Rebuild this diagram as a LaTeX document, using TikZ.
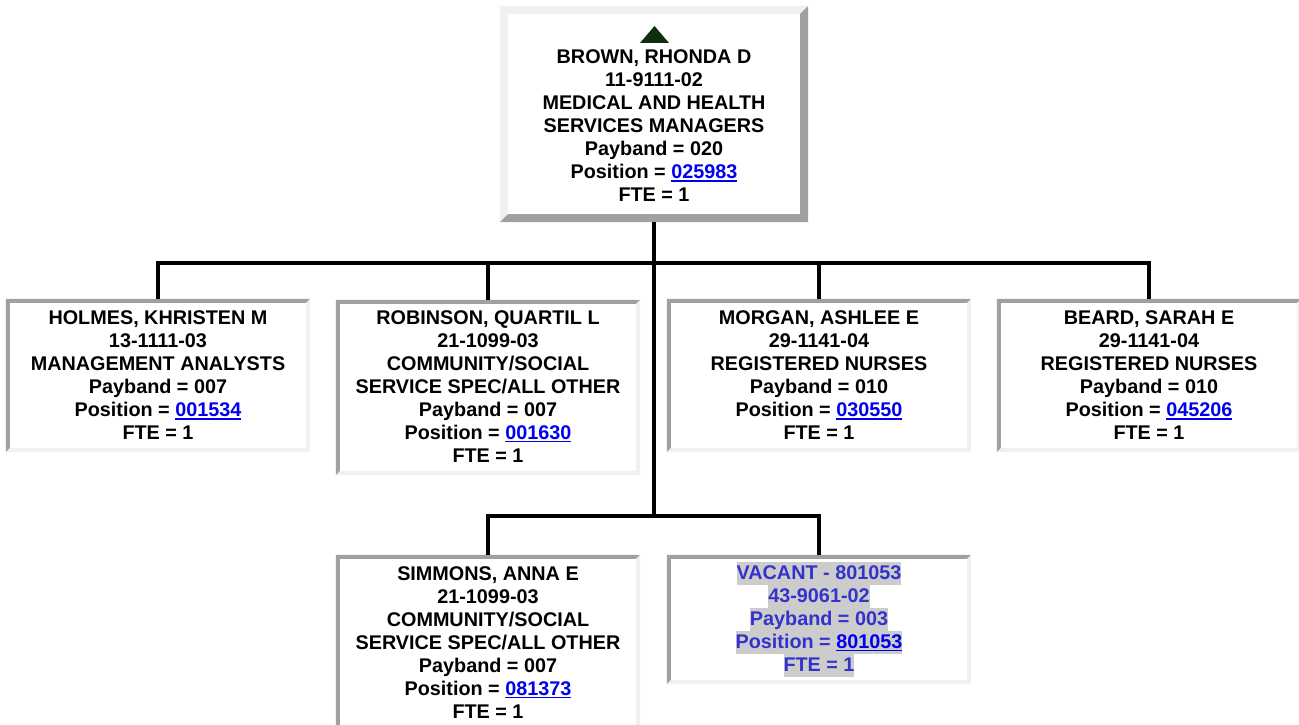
\documentclass[tikz,border=0pt]{standalone}
\usepackage{fontspec}
\setmainfont{Liberation Sans}
\definecolor{bdark}{RGB}{160,160,160}
\definecolor{blight}{RGB}{240,240,240}
\definecolor{linkblue}{RGB}{0,0,238}
\definecolor{vactext}{RGB}{51,51,204}
\definecolor{hlgray}{RGB}{204,204,204}
\definecolor{trigreen}{RGB}{15,45,15}
\newcommand\lnk[1]{{\setbox0\hbox{#1}{\color{linkblue}\rlap{\rule[-2.8pt]{\wd0}{1.6pt}}#1}}}
\newcommand\hl[1]{{\setbox0\hbox{#1}\rlap{\color{hlgray}\rule[-5.5pt]{\wd0}{23pt}}#1}}
\newcommand\bevel[4]{%
 \fill[#3] (#1.south west) -- (#1.north west) -- (#1.north east) -- ([shift={(-#2,#2)}]#1.north east) -- ([shift={(#2,#2)}]#1.north west) -- ([shift={(#2,-#2)}]#1.south west) -- cycle;
 \fill[#4] (#1.north east) -- (#1.south east) -- (#1.south west) -- ([shift={(#2,-#2)}]#1.south west) -- ([shift={(-#2,-#2)}]#1.south east) -- ([shift={(-#2,#2)}]#1.north east) -- cycle;}
\tikzset{
 boxtext/.style={align=center, font=\fontsize{19.8}{23}\selectfont\bfseries, inner sep=0pt},
 orgbox/.style={boxtext, rectangle, fill=white, minimum width=304pt},
 conn/.style={line width=4pt, draw=black, line join=miter},
}
\begin{document}
\begin{tikzpicture}[x=1pt,y=-1pt]
\useasboundingbox (0,0) rectangle (1299,725);
% top box
\node[rectangle, fill=white, minimum width=308pt, minimum height=216pt, inner sep=0pt] (brown) at (654,114) {};
\bevel{brown}{8}{blight}{bdark}
\fill[trigreen] (640,43) -- (654.5,26) -- (669,43) -- cycle;
\node[boxtext] (browntext) at (654,126) {BROWN, RHONDA D\\11-9111-02\\MEDICAL AND HEALTH\\SERVICES MANAGERS\\Payband = 020\\Position = \lnk{025983}\\FTE = 1};
% level 1
\node[orgbox, minimum height=153pt] (holmes) at (158,375.5) {HOLMES, KHRISTEN M\\13-1111-03\\MANAGEMENT ANALYSTS\\Payband = 007\\Position = \lnk{001534}\\FTE = 1};
\bevel{holmes}{4}{bdark}{blight}
\node[orgbox, minimum height=175pt, text depth=1.5pt] (robinson) at (488,387.5) {ROBINSON, QUARTIL L\\21-1099-03\\COMMUNITY/SOCIAL\\SERVICE SPEC/ALL OTHER\\Payband = 007\\Position = \lnk{001630}\\FTE = 1};
\bevel{robinson}{4}{bdark}{blight}
\node[orgbox, minimum height=153pt] (morgan) at (819,375.5) {MORGAN, ASHLEE E\\29-1141-04\\REGISTERED NURSES\\Payband = 010\\Position = \lnk{030550}\\FTE = 1};
\bevel{morgan}{4}{bdark}{blight}
\node[orgbox, minimum height=153pt] (beard) at (1149,375.5) {BEARD, SARAH E\\29-1141-04\\REGISTERED NURSES\\Payband = 010\\Position = \lnk{045206}\\FTE = 1};
\bevel{beard}{4}{bdark}{blight}
% level 2
\node[orgbox, minimum height=175pt] (simmons) at (488,642.5) {SIMMONS, ANNA E\\21-1099-03\\COMMUNITY/SOCIAL\\SERVICE SPEC/ALL OTHER\\Payband = 007\\Position = \lnk{081373}\\FTE = 1};
\bevel{simmons}{4}{bdark}{blight}
\node[orgbox, minimum height=129pt, text=vactext] (vacant) at (819,619.5) {\hl{VACANT - 801053}\\\hl{43-9061-02}\\\hl{Payband = 003}\\\hl{Position = \lnk{801053}}\\\hl{FTE = 1}};
\bevel{vacant}{4}{bdark}{blight}
% connectors
\coordinate (bus1) at (654,263);
\coordinate (bus2) at (654,516);
\draw[conn] (brown.south) -- (bus1) -- (bus2);
\draw[conn] (holmes.north) |- (bus1) -| (beard.north);
\draw[conn] (robinson.north) |- (bus1) -| (morgan.north);
\draw[conn] (simmons.north) |- (bus2) -| (vacant.north);
\end{tikzpicture}
\end{document}
